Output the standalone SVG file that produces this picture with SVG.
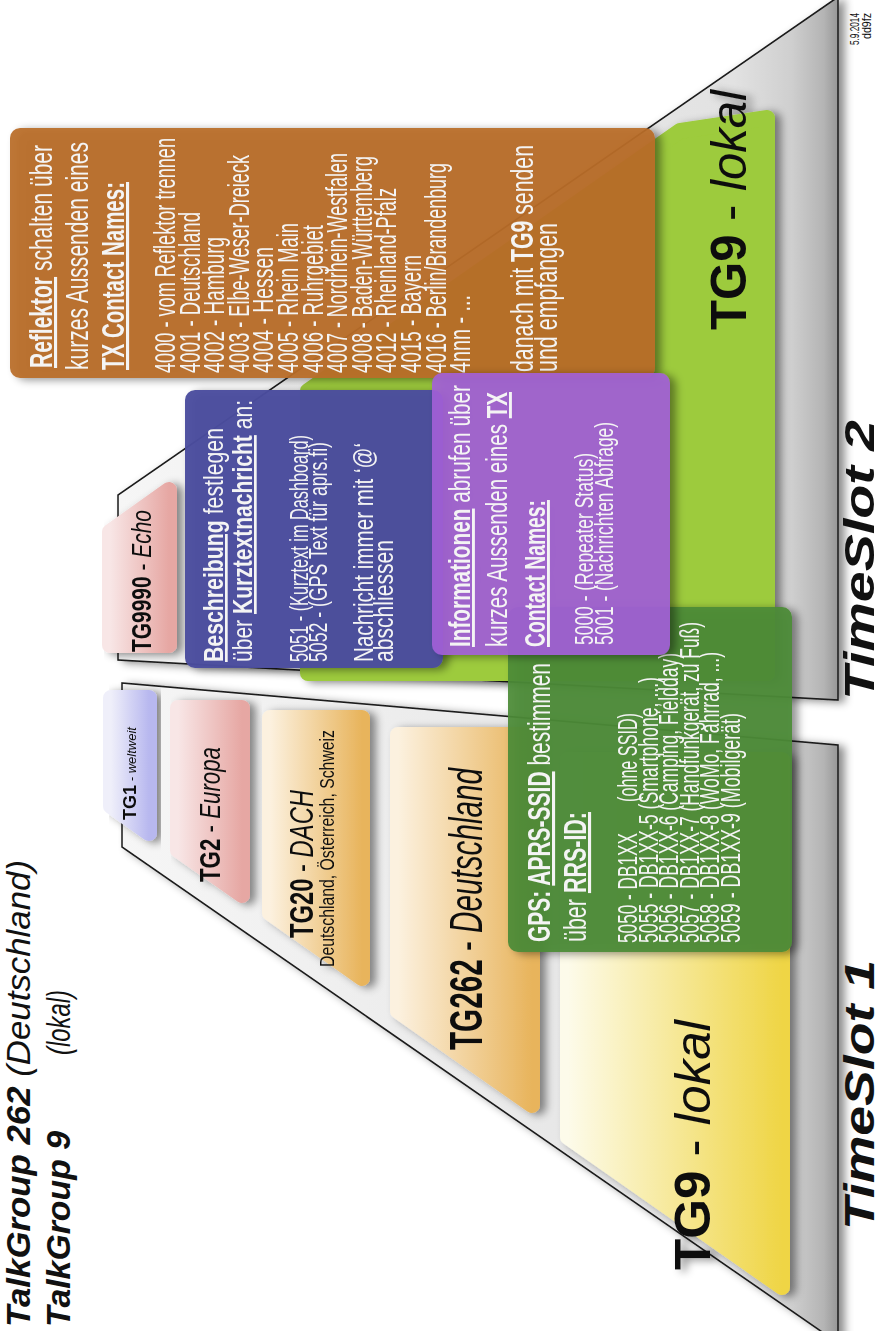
<svg xmlns="http://www.w3.org/2000/svg" width="882" height="1331" viewBox="0 0 882 1331">
<defs>
<style>
text{font-family:"Liberation Sans Narrow","Liberation Sans",Arial,sans-serif}
.w{fill:#f4f4f4}
.k{fill:#111}
.b{font-weight:bold}
.i{font-style:italic}
.u{text-decoration:underline}
.box{stroke-width:16;stroke-linejoin:round}
.trap{stroke:#1a1a1a;stroke-width:1.6;stroke-linejoin:miter}
</style>
<linearGradient id="gTrap" gradientUnits="userSpaceOnUse" x1="0" y1="118" x2="0" y2="842">
<stop offset="0" stop-color="#f6f6f6"/><stop offset="0.85" stop-color="#e2e2e2"/><stop offset="0.93" stop-color="#cfcfcf"/><stop offset="0.975" stop-color="#b4b4b4"/><stop offset="1" stop-color="#8e8e8e"/>
</linearGradient>
<linearGradient id="gLav" x1="0" y1="0" x2="0" y2="1"><stop offset="0" stop-color="#efeffa"/><stop offset="1" stop-color="#b8b8ef"/></linearGradient>
<linearGradient id="gPink" x1="0" y1="0" x2="0" y2="1"><stop offset="0" stop-color="#f8e6e6"/><stop offset="1" stop-color="#e6a7a3"/></linearGradient>
<linearGradient id="gOr" x1="0" y1="0" x2="0" y2="1"><stop offset="0" stop-color="#fcf1df"/><stop offset="1" stop-color="#e8b45c"/></linearGradient>
<linearGradient id="gYel" x1="0" y1="0" x2="0" y2="1"><stop offset="0" stop-color="#fdfbea"/><stop offset="1" stop-color="#efd545"/></linearGradient>
<filter id="sh" x="-20%" y="-20%" width="140%" height="150%">
<feGaussianBlur in="SourceAlpha" stdDeviation="4"/><feOffset dx="-2" dy="6" result="o"/><feFlood flood-color="#000" flood-opacity="0.45"/><feComposite in2="o" operator="in"/>
<feMerge><feMergeNode/><feMergeNode in="SourceGraphic"/></feMerge>
</filter>
</defs>
<rect width="882" height="1331" fill="#ffffff"/>
<g transform="matrix(0,-1,1,0,0,1331)">
<g id="timeslot1">
<polygon class="trap" points="484,122 648,122 586,838 -12,838" fill="url(#gTrap)" filter="url(#sh)"/>
</g>
<g id="timeslot2">
<polygon class="trap" points="671,118 836,118 1334,838 631,838" fill="url(#gTrap)" filter="url(#sh)"/>
</g>
<g id="tg1" filter="url(#sh)">
<polygon class="box" points="525,111 633,111 633,149 498,149" fill="url(#gLav)" stroke="url(#gLav)"/>
<text class="k" x="511" y="136" textLength="93" lengthAdjust="spacingAndGlyphs"><tspan class="b" font-size="18">TG1</tspan><tspan class="i" font-size="13"> - weltweit</tspan></text>
</g>
<g id="tg2" filter="url(#sh)">
<polygon class="box" points="481,178 623,178 623,242 436,242" fill="url(#gPink)" stroke="url(#gPink)"/>
<text class="k" x="449" y="220" font-size="30" textLength="135" lengthAdjust="spacingAndGlyphs"><tspan class="b">TG2</tspan> - <tspan class="i">Europa</tspan></text>
</g>
<g id="tg20" filter="url(#sh)">
<polygon class="box" points="418,270 613,270 613,362 353,362" fill="url(#gOr)" stroke="url(#gOr)"/>
<text class="k" x="393" y="313" font-size="33" textLength="148" lengthAdjust="spacingAndGlyphs"><tspan class="b">TG20</tspan> - <tspan class="i">DACH</tspan></text>
<text class="k" x="364" y="334" font-size="20" textLength="237" lengthAdjust="spacingAndGlyphs">Deutschland, Österreich, Schweiz</text>
</g>
<g id="tg262" filter="url(#sh)">
<polygon class="box" points="320,398 596,398 596,532 226,532" fill="url(#gOr)" stroke="url(#gOr)"/>
<text class="k" x="281" y="482" font-size="46" textLength="282" lengthAdjust="spacingAndGlyphs"><tspan class="b">TG262</tspan> - <tspan class="i">Deutschland</tspan></text>
</g>
<g id="tg9-ts1" filter="url(#sh)">
<polygon class="box" points="194,568 571,568 571,782 44,782" fill="url(#gYel)" stroke="url(#gYel)"/>
<text class="k" x="61" y="710" font-size="50" textLength="250" lengthAdjust="spacingAndGlyphs"><tspan class="b">TG9</tspan> - <tspan class="i">lokal</tspan></text>
</g>
<g id="tg9990" filter="url(#sh)">
<polygon class="box" points="686,110 799,110 841,169 686,169" fill="url(#gPink)" stroke="url(#gPink)"/>
<text class="k" x="679" y="151" font-size="28" textLength="142" lengthAdjust="spacingAndGlyphs"><tspan class="b">TG9990</tspan> - <tspan class="i">Echo</tspan></text>
</g>
<g id="tg9-ts2" filter="url(#sh)">
<polygon class="box" points="658,308 940,308 1200,680 1213,767 658,767" fill="#9dcb3c" stroke="#9dcb3c"/>
<text class="k" x="1001" y="746" font-size="50" textLength="240" lengthAdjust="spacingAndGlyphs"><tspan class="b">TG9</tspan> - <tspan class="i">lokal</tspan></text>
</g>
<g id="reflektor" filter="url(#sh)">
<rect x="953" y="10" width="250" height="645" rx="10" fill="#b96d28" fill-opacity="0.93"/>
<text class="w" x="963" y="52" font-size="31" textLength="223" lengthAdjust="spacingAndGlyphs"><tspan class="b u">Reflektor</tspan> schalten über</text>
<text class="w" x="961" y="88" font-size="31" textLength="228" lengthAdjust="spacingAndGlyphs">kurzes Aussenden eines</text>
<text class="w b u" x="961" y="124" font-size="31" textLength="188" lengthAdjust="spacingAndGlyphs">TX Contact Names:</text>
<g class="w" font-size="29">
<text x="958" y="175" textLength="235" lengthAdjust="spacingAndGlyphs">4000 - vom Reflektor trennen</text>
<text x="958" y="199.6" textLength="161" lengthAdjust="spacingAndGlyphs">4001 - Deutschland</text>
<text x="958" y="224.2" textLength="136" lengthAdjust="spacingAndGlyphs">4002 - Hamburg</text>
<text x="958" y="248.8" textLength="218" lengthAdjust="spacingAndGlyphs">4003 - Elbe-Weser-Dreieck</text>
<text x="958" y="273.4" textLength="126" lengthAdjust="spacingAndGlyphs">4004 - Hessen</text>
<text x="958" y="298" textLength="150" lengthAdjust="spacingAndGlyphs">4005 - Rhein Main</text>
<text x="958" y="322.6" textLength="148" lengthAdjust="spacingAndGlyphs">4006 - Ruhrgebiet</text>
<text x="958" y="347.2" textLength="220" lengthAdjust="spacingAndGlyphs">4007 - Nordrhein-Westfalen</text>
<text x="958" y="371.8" textLength="217" lengthAdjust="spacingAndGlyphs">4008 - Baden-Württemberg</text>
<text x="958" y="396.4" textLength="185" lengthAdjust="spacingAndGlyphs">4012 - Rheinland-Pfalz</text>
<text x="958" y="421" textLength="118" lengthAdjust="spacingAndGlyphs">4015 - Bayern</text>
<text x="958" y="445.6" textLength="210" lengthAdjust="spacingAndGlyphs">4016 - Berlin/Brandenburg</text>
<text x="958" y="470.2" textLength="78" lengthAdjust="spacingAndGlyphs">4nnn - ...</text>
</g>
<text class="w" x="959" y="533" font-size="32" textLength="227" lengthAdjust="spacingAndGlyphs">danach mit <tspan class="b">TG9</tspan> senden</text>
<text class="w" x="959" y="557" font-size="32" textLength="149" lengthAdjust="spacingAndGlyphs">und empfangen</text>
</g>
<g id="beschreibung" filter="url(#sh)">
<rect x="663" y="185" width="278" height="258" rx="10" fill="#4a4c9e" fill-opacity="0.96"/>
<text class="w" x="669" y="223" font-size="27" textLength="234" lengthAdjust="spacingAndGlyphs"><tspan class="b u">Beschreibung</tspan> festlegen</text>
<text class="w" x="669" y="252" font-size="27" textLength="262" lengthAdjust="spacingAndGlyphs">über <tspan class="b u">Kurztextnachricht</tspan> an:</text>
<text class="w" x="669" y="308" font-size="25" textLength="227" lengthAdjust="spacingAndGlyphs">5051 - (Kurztext im Dashboard)</text>
<text class="w" x="669" y="327" font-size="25" textLength="220" lengthAdjust="spacingAndGlyphs">5052 - (GPS Text für aprs.fi)</text>
<text class="w" x="669" y="373" font-size="27" textLength="219" lengthAdjust="spacingAndGlyphs">Nachricht immer mit ‘@‘</text>
<text class="w" x="669" y="393" font-size="27" textLength="122" lengthAdjust="spacingAndGlyphs">abschliessen</text>
</g>
<g id="gps" filter="url(#sh)">
<rect x="379" y="508" width="345" height="284" rx="10" fill="#4b8b36" fill-opacity="0.93"/>
<text class="w" x="389" y="550" font-size="31" textLength="279" lengthAdjust="spacingAndGlyphs"><tspan class="b">GPS: </tspan><tspan class="b u">APRS-SSID</tspan> bestimmen</text>
<text class="w" x="389" y="586" font-size="31" textLength="130" lengthAdjust="spacingAndGlyphs">über <tspan class="b u">RRS-ID:</tspan></text>
<g class="w" font-size="28">
<text x="388" y="637" textLength="110" lengthAdjust="spacingAndGlyphs">5050 - DB1XX</text>
<text x="529" y="637" textLength="89" lengthAdjust="spacingAndGlyphs">(ohne SSID)</text>
<text x="388" y="657.6" textLength="266" lengthAdjust="spacingAndGlyphs">5055 - DB1XX-5 (Smartphone, ...)</text>
<text x="388" y="678.2" textLength="290" lengthAdjust="spacingAndGlyphs">5056 - DB1XX-6 (Camping, Fieldday)</text>
<text x="388" y="698.8" textLength="321" lengthAdjust="spacingAndGlyphs">5057 - DB1XX-7 (Handfunkgerät, zu Fuß)</text>
<text x="388" y="719.4" textLength="291" lengthAdjust="spacingAndGlyphs">5058 - DB1XX-8 (WoMo, Fahrrad, ...)</text>
<text x="388" y="740" textLength="230" lengthAdjust="spacingAndGlyphs">5059 - DB1XX-9 (Mobilgerät)</text>
</g>
</g>
<g id="informationen" filter="url(#sh)">
<rect x="676" y="432" width="282" height="238" rx="10" fill="#a35fd8" fill-opacity="0.9"/>
<text class="w" x="684" y="470" font-size="29" textLength="262" lengthAdjust="spacingAndGlyphs"><tspan class="b u">Informationen</tspan> abrufen über</text>
<text class="w" x="684" y="507" font-size="29" textLength="255" lengthAdjust="spacingAndGlyphs">kurzes Aussenden eines <tspan class="b u">TX</tspan></text>
<text class="w b u" x="684" y="545" font-size="29" textLength="147" lengthAdjust="spacingAndGlyphs">Contact Names:</text>
<text class="w" x="686" y="593" font-size="25" textLength="192" lengthAdjust="spacingAndGlyphs">5000 - (Repeater Status)</text>
<text class="w" x="686" y="613" font-size="25" textLength="223" lengthAdjust="spacingAndGlyphs">5001 - (Nachrichten Abfrage)</text>
</g>
<g id="titles">
<text class="k" x="4" y="30" font-size="34" textLength="467" lengthAdjust="spacingAndGlyphs"><tspan class="b i">TalkGroup 262</tspan> <tspan class="i">(Deutschland)</tspan></text>
<text class="k b i" x="4" y="70" font-size="34" textLength="196" lengthAdjust="spacingAndGlyphs">TalkGroup 9</text>
<text class="k i" x="276" y="70" font-size="34" textLength="65" lengthAdjust="spacingAndGlyphs">(lokal)</text>
<text class="k b i" x="101" y="874" font-size="42" textLength="270" lengthAdjust="spacingAndGlyphs">TimeSlot 1</text>
<text class="k b i" x="631" y="874" font-size="42" textLength="280" lengthAdjust="spacingAndGlyphs">TimeSlot 2</text>
<text class="k" x="1286" y="859" font-size="13" textLength="32" lengthAdjust="spacingAndGlyphs">5.9.2014</text>
<text class="k" x="1292" y="871" font-size="13" textLength="26" lengthAdjust="spacingAndGlyphs">dd9fz</text>
</g>
</g>
</svg>
